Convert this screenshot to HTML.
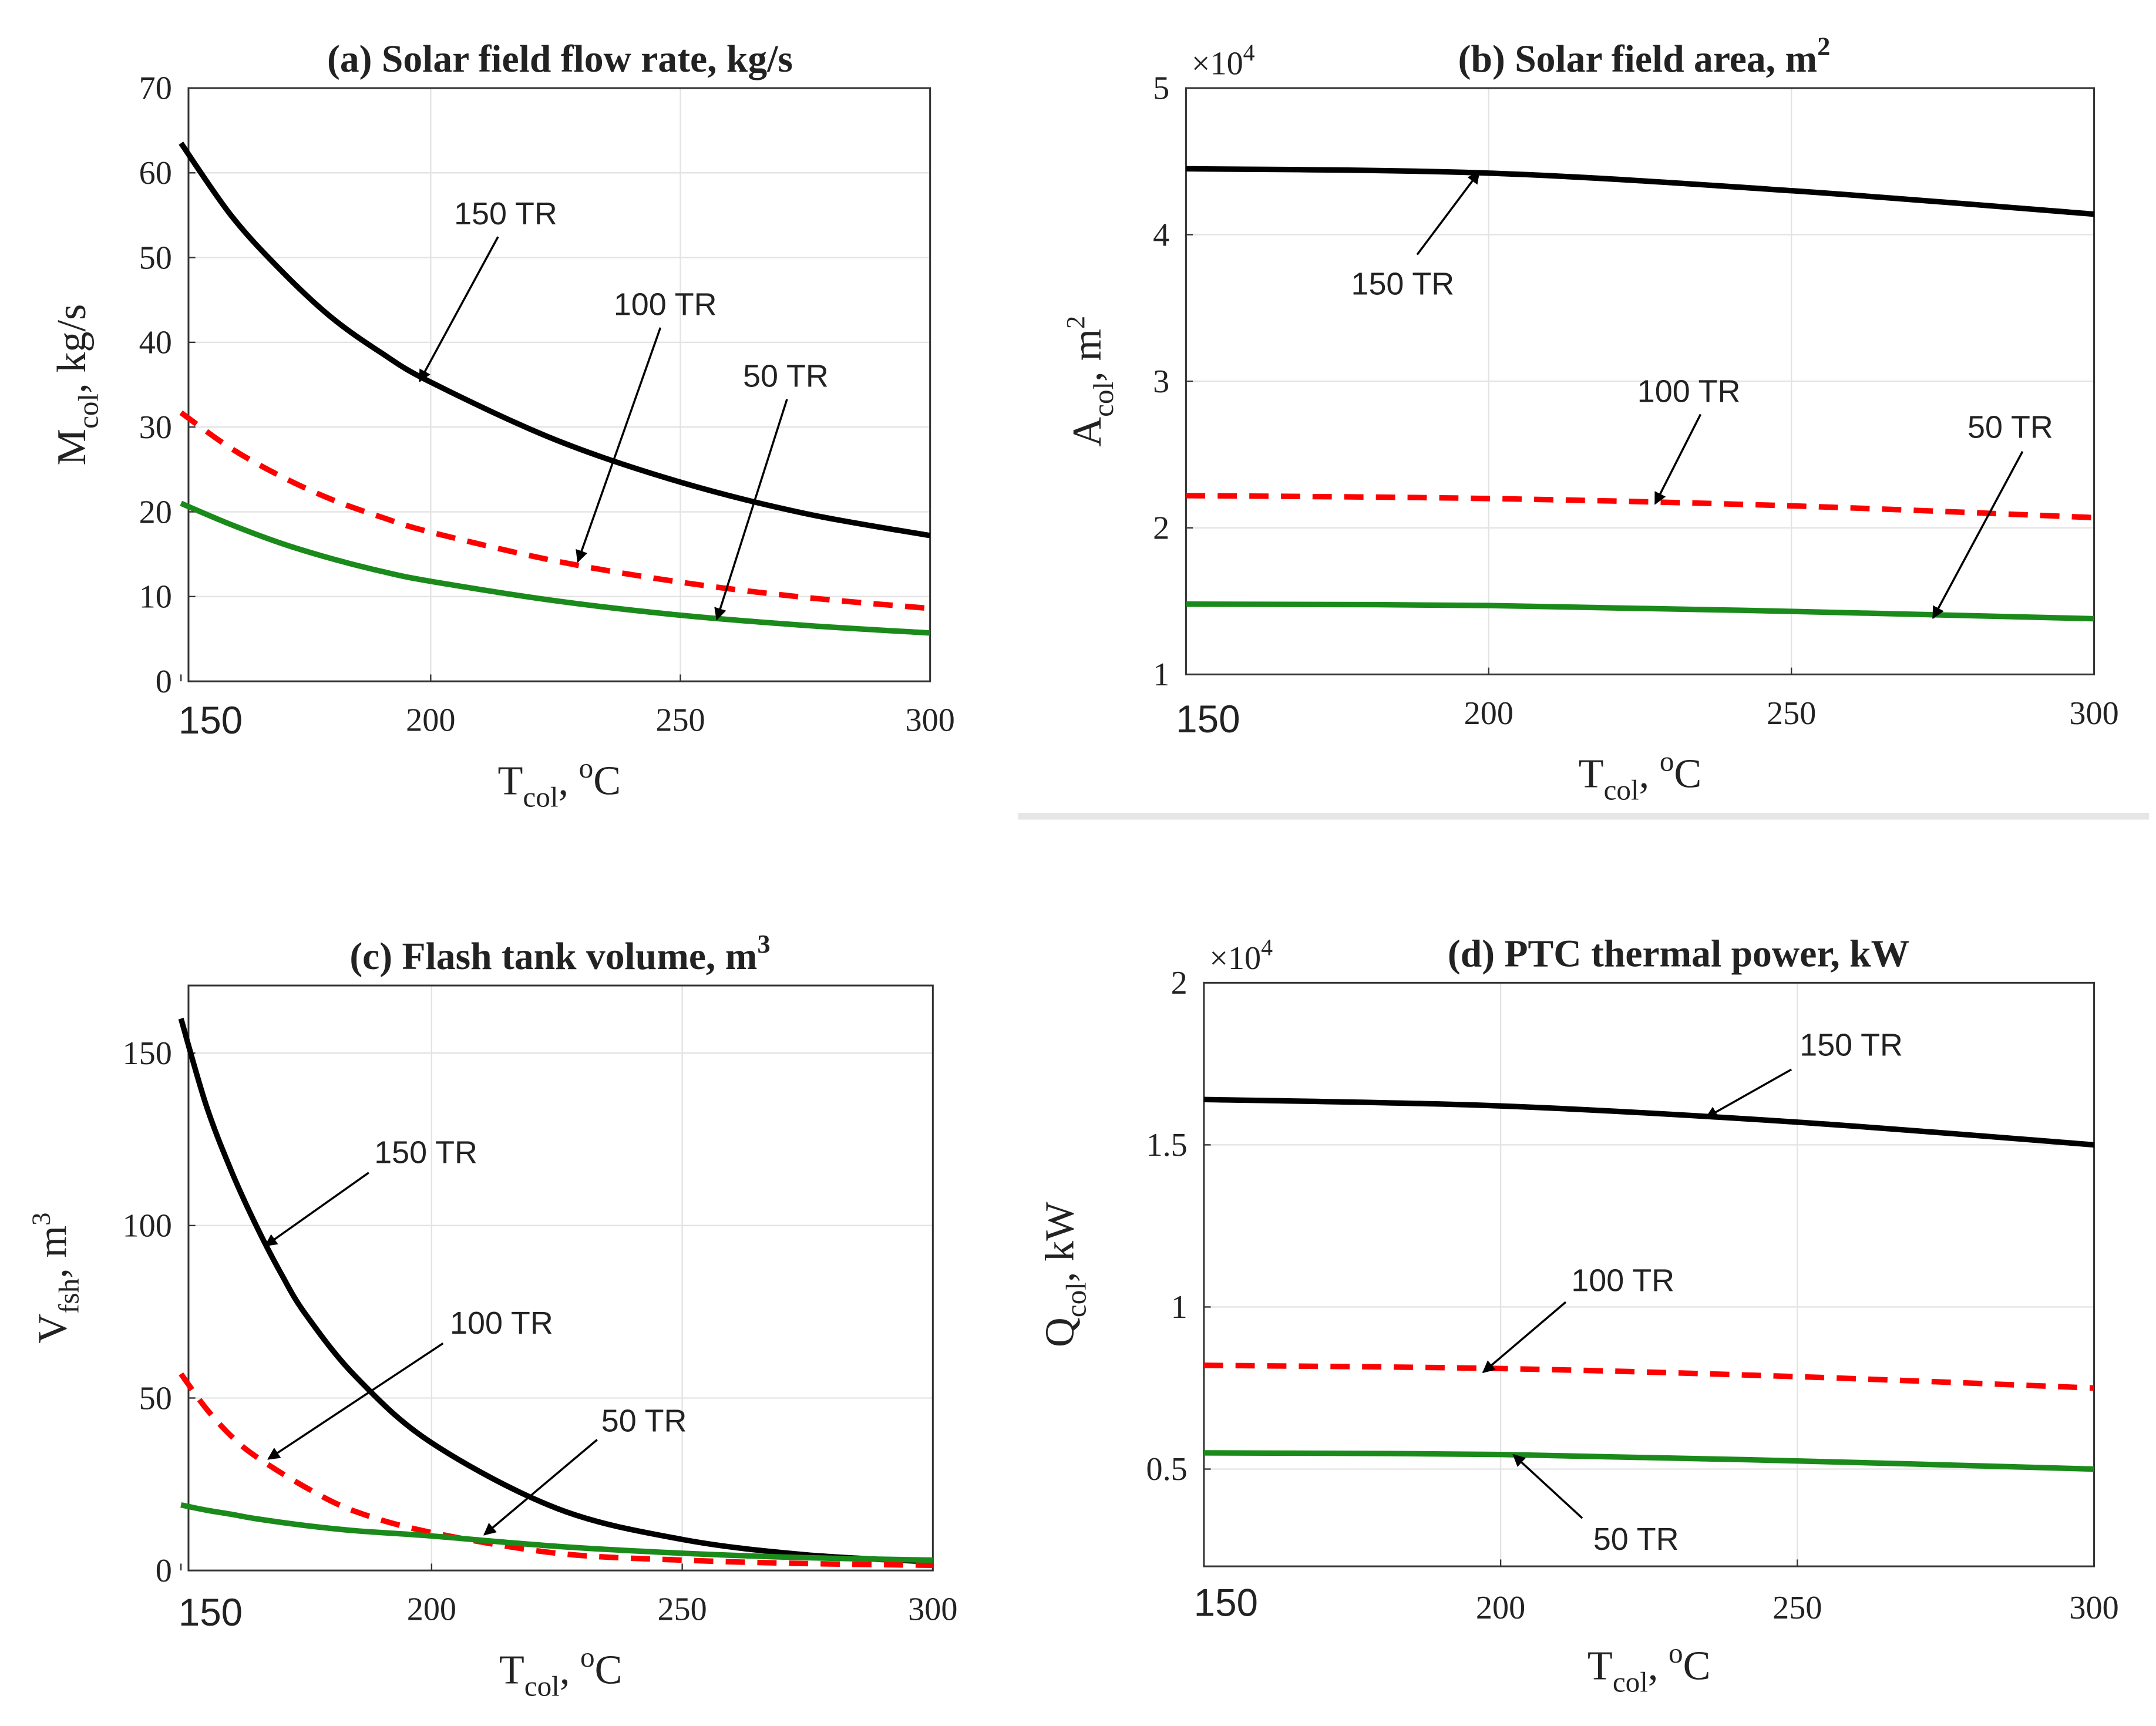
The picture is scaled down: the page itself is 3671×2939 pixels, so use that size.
<!DOCTYPE html>
<html><head><meta charset="utf-8"><style>
html,body{margin:0;padding:0;background:#fff}
svg{display:block}
text{font-family:"Liberation Serif",serif;fill:#222}
.s{font-family:"Liberation Sans",sans-serif}
</style></head><body>
<svg id="fig" width="3671" height="2939" viewBox="0 0 1567 1254" preserveAspectRatio="none" xmlns="http://www.w3.org/2000/svg">
<defs><marker id="ah" viewBox="0 0 10 10" refX="9" refY="5" markerWidth="9" markerHeight="9" orient="auto-start-reverse" markerUnits="userSpaceOnUse"><path d="M0,0 L10,5 L0,10 z" fill="#000"/></marker></defs>
<line x1="740" y1="593" x2="1562" y2="593" stroke="#e6e6e6" stroke-width="5"/>
</svg>
<script>
// ---- data ----
const aT=[150,160,170,180,190,200,225,250,275,300];
const a150=[63.5,55,48.5,43,38.8,35.3,28.5,23.5,19.8,17.2];
const a100=[31.7,27.5,24.2,21.5,19.4,17.6,14.2,11.7,9.9,8.6];
const a50=[21,18.5,16.3,14.5,13,11.8,9.5,7.8,6.6,5.7];
const bT=[150,200,250,300];
const b150=[4.45,4.42,4.3,4.14];
const b100=[2.22,2.2,2.15,2.07];
const b50=[1.48,1.47,1.43,1.38];
const cT=[150,155,160,165,170,175,185,200,225,250,275,300];
const c150=[160,135,116,100,86,74,56,37,18,9,4.5,2.5];
const cT2=[150,155,160,165,175,185,200,225,250,275,300];
const c100=[57,47,39,33,24,17,11,5,3,2,1.5];
const c50=[19,17.5,16.3,15,13,11.5,10,7,5,3.7,3];
const dT=[150,200,250,300];
const d150=[1.64,1.62,1.57,1.5];
const d100=[0.82,0.81,0.785,0.75];
const d50=[0.55,0.545,0.525,0.5];
const xTicks=[150,200,250,300];
const aTicks=[0,10,20,30,40,50,60,70];
const bTicks=[1,2,3,4,5];
const cTicks=[0,50,100,150];
const dTicks=[0.5,1,1.5,2];

const NS="http://www.w3.org/2000/svg";
const svg=document.getElementById('fig');
function el(t,a,p){const e=document.createElementNS(NS,t);for(const k in a)e.setAttribute(k,a[k]);(p||svg).appendChild(e);return e;}
function smooth(pts){let d=`M${pts[0][0]},${pts[0][1]}`;for(let i=0;i<pts.length-1;i++){const p0=pts[i-1]||pts[i],p1=pts[i],p2=pts[i+1],p3=pts[i+2]||p2;const c1=[p1[0]+(p2[0]-p0[0])/6,p1[1]+(p2[1]-p0[1])/6],c2=[p2[0]-(p3[0]-p1[0])/6,p2[1]-(p3[1]-p1[1])/6];d+=` C${c1[0]},${c1[1]} ${c2[0]},${c2[1]} ${p2[0]},${p2[1]}`;}return d;}

function panel(cfg){
 const g=el('g',{});
 
 
 const X=v=>cfg.L+(v-cfg.x0)/(cfg.x1-cfg.x0)*(cfg.R-cfg.L);
 const Y=v=>cfg.B-(v-cfg.y0)/(cfg.y1-cfg.y0)*(cfg.B-cfg.T);
 xTicks.forEach((t,i)=>{const x=X(t);if(x>cfg.L+2&&x<cfg.R-2){const l=el('line',{x1:x,y1:cfg.T,x2:x,y2:cfg.B,stroke:'#e3e3e3','stroke-width':1},g);}
  const tx=el('text',{x:i==0?cfg.L+16:x,y:cfg.B+(i==0?cfg.f0dy:cfg.tdy),'text-anchor':'middle','font-size':i==0?28:24,class:i==0?'s':''},g);tx.textContent=t;
  
  el('line',{x1:x,y1:cfg.B,x2:x,y2:cfg.B-5,stroke:'#333'},g);});
 cfg.yt.forEach(t=>{const y=Y(t);if(y>cfg.T+2&&y<cfg.B-2){const l=el('line',{x1:cfg.L,y1:y,x2:cfg.R,y2:y,stroke:'#e3e3e3','stroke-width':1},g);}
  const tx=el('text',{x:cfg.L-12,y:y+8,'text-anchor':'end','font-size':24},g);tx.textContent=t;
  
  el('line',{x1:cfg.L,y1:y,x2:cfg.L+5,y2:y,stroke:'#333'},g);});
 const box=el('rect',{x:cfg.L,y:cfg.T,width:cfg.R-cfg.L,height:cfg.B-cfg.T,fill:'none',stroke:'#333','stroke-width':1.3},g);
 
 cfg.series.forEach(s=>{const p=el('path',{d:smooth(s.t.map((t,i)=>[X(t),Y(s.v[i])])),fill:'none',stroke:s.c,'stroke-width':4,'stroke-dasharray':s.dash||'none'},g);
  });
 cfg.ann.forEach(a=>{const ar=el('line',{x1:a[2],y1:a[3],x2:a[4],y2:a[5],stroke:'#000','stroke-width':1.5,'marker-end':'url(#ah)'},g);
  
  const tx=el('text',{x:a[0],y:a[1],'font-size':23,class:'s'},g);tx.textContent=a[6];
  });
 const ti=el('text',{x:cfg.tx,y:cfg.T-12,'text-anchor':'middle','font-size':28,'font-weight':'bold'},g);ti.innerHTML=cfg.title;
 
 const xl=el('text',{x:(cfg.L+cfg.R)/2,y:cfg.B+cfg.xldy,'text-anchor':'middle','font-size':30},g);
 xl.innerHTML='T<tspan font-size="21" dy="9">col</tspan><tspan dy="-9">, </tspan><tspan font-size="21" dy="-12">o</tspan><tspan dy="12">C</tspan>';
 
 const yl=el('text',{x:0,y:0,'text-anchor':'middle','font-size':30,transform:`translate(${cfg.ylx},${(cfg.T+cfg.B)/2}) rotate(-90)`},g);yl.innerHTML=cfg.ylab;
 
 if(cfg.exp){const e=el('text',{x:cfg.L+4,y:cfg.T-10,'font-size':24},g);e.innerHTML='×10<tspan font-size="17" dy="-10">4</tspan>';
  }
}
panel({name:'panel-a-flow-rate',L:137,R:676,T:64,B:495,x0:151.5,x1:300,y0:0,y1:70,yt:aTicks,tdy:36,f0dy:38,xldy:82,ylx:62,tx:407,
 title:'(a) Solar field flow rate, kg/s',ylab:'M<tspan font-size="21" dy="9">col</tspan><tspan dy="-9">, kg/s</tspan>',
 series:[{t:aT,v:a150,c:'#000',n:'line-150tr'},{t:aT,v:a100,c:'#f00',dash:'14 9',n:'line-100tr'},{t:aT,v:a50,c:'#1a8a1a',n:'line-50tr'}],
 ann:[[330,163,362,172,305,277,'150 TR'],[446,229,480,238,420,408,'100 TR'],[540,281,572,290,521,450,'50 TR']]});
panel({name:'panel-b-field-area',L:862,R:1522,T:64,B:490,x0:150,x1:300,y0:1,y1:5,yt:bTicks,tdy:36,f0dy:42,xldy:82,ylx:800,tx:1195,exp:true,
 title:'(b) Solar field area, m<tspan font-size="19" dy="-12">2</tspan>',ylab:'A<tspan font-size="21" dy="9">col</tspan><tspan dy="-9">, m</tspan><tspan font-size="19" dy="-12">2</tspan>',
 series:[{t:bT,v:b150,c:'#000',n:'line-150tr'},{t:bT,v:b100,c:'#f00',dash:'14 9',n:'line-100tr'},{t:bT,v:b50,c:'#1a8a1a',n:'line-50tr'}],
 ann:[[982,214,1030,185,1075,125,'150 TR'],[1190,292,1236,301,1203,366,'100 TR'],[1430,318,1470,328,1405,449,'50 TR']]});
panel({name:'panel-c-flash-tank',L:137,R:678,T:716,B:1141,x0:151.5,x1:300,y0:0,y1:169.6,yt:cTicks,tdy:36,f0dy:40,xldy:82,ylx:48,tx:407,
 title:'(c) Flash tank volume, m<tspan font-size="19" dy="-12">3</tspan>',ylab:'V<tspan font-size="21" dy="9">fsh</tspan><tspan dy="-9">, m</tspan><tspan font-size="19" dy="-12">3</tspan>',
 series:[{t:cT,v:c150,c:'#000',n:'line-150tr'},{t:cT2,v:c100,c:'#f00',dash:'14 9',n:'line-100tr'},{t:cT2,v:c50,c:'#1a8a1a',n:'line-50tr'}],
 ann:[[272,845,268,852,193,905,'150 TR'],[327,969,322,976,195,1060,'100 TR'],[437,1040,434,1046,352,1115,'50 TR']]});
panel({name:'panel-d-thermal-power',L:875,R:1522,T:714,B:1138,x0:150,x1:300,y0:0.2,y1:2,yt:dTicks,tdy:38,f0dy:36,xldy:82,ylx:780,tx:1220,exp:true,
 title:'(d) PTC thermal power, kW',ylab:'Q<tspan font-size="21" dy="9">col</tspan><tspan dy="-9">, kW</tspan>',
 series:[{t:dT,v:d150,c:'#000',n:'line-150tr'},{t:dT,v:d100,c:'#f00',dash:'14 9',n:'line-100tr'},{t:dT,v:d50,c:'#1a8a1a',n:'line-50tr'}],
 ann:[[1308,767,1302,777,1240,812,'150 TR'],[1142,938,1138,946,1078,997,'100 TR'],[1158,1126,1150,1103,1100,1057,'50 TR']]});
</script>
</body></html>
